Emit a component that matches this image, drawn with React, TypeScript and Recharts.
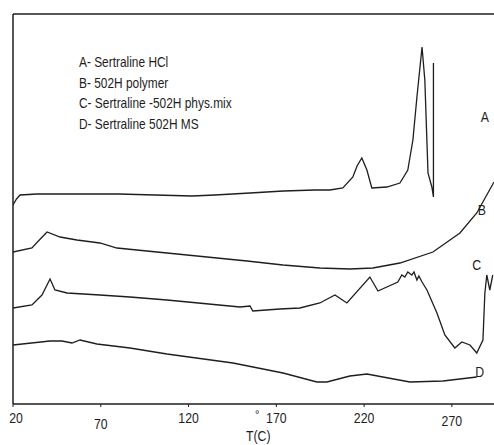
import React from "react";
import { LineChart, Line, XAxis, YAxis, ReferenceLine, ReferenceDot } from "recharts";

// Temperature ticks (°C)
const tempTicks = [20, 70, 120, 170, 220, 270];

// A- Sertraline HCl
const aTemp = [20, 22, 24, 33.7, 80, 122, 135, 145, 155, 174, 192, 200.5, 207.9, 213.6, 216, 218.7, 221.6, 224.4, 233, 240.4, 244.9, 247.8, 250.1, 253, 254.6, 256.4, 258.6, 259.5, 259.5];
const aSignal = [199, 205, 209, 210, 210, 208, 209, 210, 211, 213, 214, 214, 216, 227, 238, 246, 234, 216, 217, 221, 234, 264, 307, 357, 324, 231, 217, 207, 341];

// B- 502H polymer
const bTemp = [20, 30.8, 35, 39.4, 46.8, 56.4, 69.5, 79.2, 107.7, 153.3, 173.8, 194.8, 211.9, 225, 240.4, 259.2, 274.6, 284.2, 294];
const bSignal = [152, 156, 164, 172, 167, 164, 161, 156, 151, 143, 139, 136, 135, 136, 141, 152, 171, 191, 222];

// C- Sertraline -502H phys.mix
const cTemp = [20, 30.8, 36.5, 41.1, 43.9, 50.8, 69.5, 86.6, 107.7, 149.3, 155, 156.6, 172, 183.4, 194.8, 203.4, 210.2, 223.3, 227.9, 239.2, 241.5, 243.2, 244.9, 247.2, 248.4, 250.1, 251.2, 253, 255.8, 261.5, 266, 271.7, 275.7, 280.3, 284.2, 287.7, 288.8, 289.9, 291.6, 293.3];
const cSignal = [96, 99, 109, 125, 114, 111, 109, 107, 104, 97, 98, 93, 95, 96, 101, 109, 101, 127, 113, 122, 129, 127, 132, 129, 132, 124, 128, 122, 114, 91, 69, 56, 62, 59, 51, 64, 111, 129, 114, 129];

// D- Sertraline 502H MS
const dTemp = [20, 41.1, 47.9, 53.6, 58.2, 67.8, 86.6, 107.7, 145.3, 173.8, 193.1, 198.8, 211.9, 221.6, 230.7, 246.1, 264.9, 284.2];
const dSignal = [59, 63, 63, 61, 64, 60, 56, 50, 41, 31, 22, 22, 28, 30, 27, 22, 23, 27];

const legendLines = ["A- Sertraline HCl", "B- 502H polymer", "C- Sertraline -502H phys.mix", "D- Sertraline 502H MS"];
const curveNames = ["A", "B", "C", "D"];
const curveLabelT = [288.8, 287.1, 284.2, 285.9];
const curveLabelV = [287, 194, 139, 32];

const build = (t: number[], v: number[]) => t.map((x, i) => ({ t: x, v: v[i] }));
const series = [build(aTemp, aSignal), build(bTemp, bSignal), build(cTemp, cSignal), build(dTemp, dSignal)];

const FONT = "'Liberation Sans', Arial, sans-serif";
const INK = "#1e1e1e";
const NARROW = 0.82;

const tickDy: Record<number, number> = { 20: 14, 70: 20, 120: 14, 170: 14, 220: 14, 270: 17 };

const Tick = (props: any) => {
  const { x, y, payload } = props;
  const dx = payload.value === 20 ? 3 : 0;
  return (
    <g transform={`translate(${x + dx},${y + (tickDy[payload.value] ?? 14)}) scale(${NARROW},1)`}>
      <text x={0} y={0} textAnchor="middle" fontFamily={FONT} fontSize={15} fill={INK}>
        {payload.value}
      </text>
    </g>
  );
};

const CurveLabel = (props: any) => {
  const { viewBox, value } = props;
  const cx = viewBox.x + (viewBox.width || 0) / 2;
  const cy = viewBox.y + (viewBox.height || 0) / 2;
  return (
    <g transform={`translate(${cx},${cy}) scale(${NARROW},1)`}>
      <text x={0} y={0} dy="0.36em" textAnchor="middle" fontFamily={FONT} fontSize={15} fill={INK}>
        {value}
      </text>
    </g>
  );
};

export default function App() {
  return (
    <div style={{ position: "absolute", left: 0, top: 0, width: 494, height: 445, background: "#fff" }}>
      <LineChart width={494} height={445} margin={{ top: 14, right: 0, left: 13, bottom: 11 }}>
        <XAxis
          type="number"
          dataKey="t"
          domain={[20, 294]}
          ticks={tempTicks}
          allowDataOverflow
          height={30}
          tickSize={3}
          tickMargin={2}
          tick={<Tick />}
          axisLine={{ stroke: INK, strokeWidth: 1.5 }}
          tickLine={{ stroke: INK }}
        />
        <YAxis type="number" domain={[0, 390]} hide allowDataOverflow />
        <ReferenceLine x={20} stroke={INK} strokeWidth={1.5} />
        <ReferenceLine y={390} stroke={INK} strokeWidth={1.5} />
        {series.map((d, i) => (
          <Line
            key={i}
            data={d}
            dataKey="v"
            type="linear"
            stroke={INK}
            strokeWidth={1.3}
            dot={false}
            activeDot={false}
            isAnimationActive={false}
          />
        ))}
        {curveNames.map((n, i) => (
          <ReferenceDot
            key={n}
            x={curveLabelT[i]}
            y={curveLabelV[i]}
            r={0}
            stroke="none"
            fill="none"
            label={<CurveLabel value={n} />}
          />
        ))}
      </LineChart>
      <div
        style={{
          position: "absolute",
          left: 79,
          top: 52,
          fontFamily: FONT,
          fontSize: 14.5,
          color: INK,
          lineHeight: "20.5px",
          transform: `scaleX(${NARROW})`,
          transformOrigin: "left top",
        }}
      >
        {legendLines.map((l) => (
          <div key={l} style={{ whiteSpace: "nowrap" }}>{l}</div>
        ))}
      </div>
      <div style={{ position: "absolute", left: 255, top: 408, fontFamily: FONT, fontSize: 11, color: INK }}>°</div>
      <div
        style={{
          position: "absolute",
          left: 246,
          top: 427,
          fontFamily: FONT,
          fontSize: 15,
          color: INK,
          transform: `scaleX(${NARROW})`,
          transformOrigin: "left top",
        }}
      >
        T(C)
      </div>
    </div>
  );
}
